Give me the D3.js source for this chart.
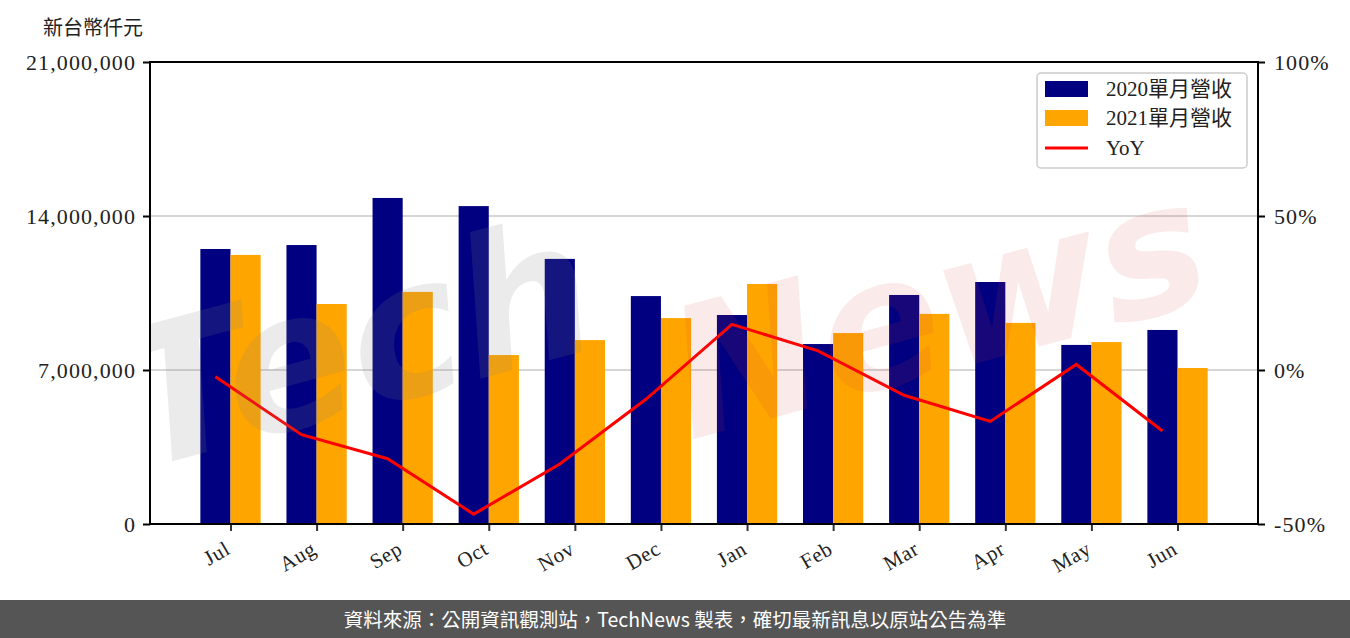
<!DOCTYPE html>
<html><head><meta charset="utf-8">
<script src="https://cdn.jsdelivr.net/npm/d3@7"></script>
<style>
html,body{margin:0;padding:0;background:#fff;}
svg{display:block;}
</style></head>
<body>
<svg id="chart" width="1350" height="638"></svg>
<script>
const months = ["Jul","Aug","Sep","Oct","Nov","Dec","Jan","Feb","Mar","Apr","May","Jun"];
const rev2020 = [12500000,12680000,14820000,14450000,12050000,10360000,9500000,8180000,10410000,11000000,8140000,8820000];
const rev2021 = [12230000,10000000,10550000,7680000,8360000,9360000,10910000,8680000,9550000,9140000,8270000,7090000];
const yoy = [-2.2,-21.0,-28.8,-46.8,-30.5,-9.5,14.8,6.2,-8.2,-16.7,1.8,-19.8];
const leftTicks = [0,7000000,14000000,21000000];
const rightTicks = [-50,0,50,100];
const seriesNames = ["2020單月營收","2021單月營收","YoY"];
const colors = {a:"#000080", b:"#FFA500", line:"#FF0000"};

const svg = d3.select("#chart");
const L=150, R=1258, T=62, B=524;
const bw = 0.35, m = 0.05*(11+2*bw);
const x = d3.scaleLinear().domain([-bw-m, 11+bw+m]).range([L,R]);
const y = d3.scaleLinear().domain([0,21000000]).range([B,T]);
const y2 = d3.scaleLinear().domain([-50,100]).range([B,T]);
const serif = "'Liberation Serif','DejaVu Serif',serif";
const cjk = "'Liberation Serif','Noto Sans CJK TC',serif";

svg.append("defs").append("clipPath").attr("id","plotclip")
  .append("rect").attr("x",L).attr("y",T).attr("width",R-L).attr("height",B-T);

// gridlines
svg.append("g").selectAll("line").data([7000000,14000000]).join("line")
  .attr("x1",L).attr("x2",R).attr("y1",d=>y(d)).attr("y2",d=>y(d))
  .attr("stroke","#d6d6d6").attr("stroke-width",2);

// bars
const idx = d3.range(months.length);
svg.append("g").selectAll("rect").data(idx).join("rect")
  .attr("x",i=>x(i-bw)).attr("width",i=>x(i)-x(i-bw))
  .attr("y",i=>y(rev2020[i])).attr("height",i=>y(0)-y(rev2020[i]))
  .attr("fill",colors.a);
svg.append("g").selectAll("rect").data(idx).join("rect")
  .attr("x",i=>x(i)).attr("width",i=>x(i+bw)-x(i))
  .attr("y",i=>y(rev2021[i])).attr("height",i=>y(0)-y(rev2021[i]))
  .attr("fill",colors.b);

// line
svg.append("path").datum(idx)
  .attr("d", d3.line().x(i=>x(i-bw/2)).y(i=>y2(yoy[i])))
  .attr("fill","none").attr("stroke",colors.line).attr("stroke-width",3);

// watermark
const wm = svg.append("g").attr("clip-path","url(#plotclip)")
  .attr("font-family","'DejaVu Sans',sans-serif").attr("font-style","italic").attr("font-weight","bold");
wm.append("text").attr("transform","translate(140,470) rotate(-15)")
  .attr("font-size",190).attr("fill","#808080").attr("fill-opacity",0.16).text("Tech");
wm.append("text").attr("transform","translate(690,440) rotate(-15)")
  .attr("font-size",180).attr("fill","#d04040").attr("fill-opacity",0.11).text("News");

// axes
const gl = svg.append("g").attr("transform",`translate(${L},0)`)
  .call(d3.axisLeft(y).tickValues(leftTicks).tickFormat(d3.format(",")).tickSize(7).tickPadding(7));
const gr = svg.append("g").attr("transform",`translate(${R},0)`)
  .call(d3.axisRight(y2).tickValues(rightTicks).tickFormat(d=>d+"%").tickSize(7).tickPadding(9));
const gb = svg.append("g").attr("transform",`translate(0,${B})`)
  .call(d3.axisBottom(x).tickValues(idx).tickFormat(i=>months[i]).tickSize(7).tickPadding(6));
[gl,gr].forEach(g=>{
  g.select(".domain").remove();
  g.selectAll(".tick line").attr("stroke","#000").attr("stroke-width",2);
  g.selectAll(".tick text").attr("font-family",serif).attr("font-size",22).attr("fill","#222").attr("letter-spacing","1.1px");
});
gb.select(".domain").remove();
gb.selectAll(".tick line").attr("stroke","#333").attr("stroke-width",2);
gb.selectAll(".tick text").attr("font-family",serif).attr("font-size",21).attr("fill","#222")
  .attr("text-anchor","end").attr("dy","0.2em").attr("letter-spacing","0.6px")
  .attr("transform","translate(-8,14) rotate(-30)");

// frame
svg.append("rect").attr("x",L).attr("y",T).attr("width",R-L).attr("height",B-T)
  .attr("fill","none").attr("stroke","#000").attr("stroke-width",2);

// unit label
svg.append("text").attr("x",43).attr("y",35).attr("font-family",cjk).attr("font-size",20).attr("fill","#222").text("新台幣仟元");

// legend
const lg = svg.append("g");
lg.append("rect").attr("x",1037).attr("y",73).attr("width",210).attr("height",95).attr("rx",4)
  .attr("fill","#fff").attr("fill-opacity",0.8).attr("stroke","#cccccc").attr("stroke-width",1.5);
const rows=[89,118,148];
lg.append("rect").attr("x",1045).attr("y",rows[0]-8).attr("width",43).attr("height",16).attr("fill",colors.a);
lg.append("rect").attr("x",1045).attr("y",rows[1]-8).attr("width",43).attr("height",16).attr("fill",colors.b);
lg.append("line").attr("x1",1045).attr("x2",1088).attr("y1",rows[2]).attr("y2",rows[2]).attr("stroke",colors.line).attr("stroke-width",3);
lg.selectAll("text.l").data(seriesNames).join("text").attr("class","l")
  .attr("x",1106).attr("y",(d,i)=>rows[i]).attr("dy","0.35em")
  .attr("font-family",cjk).attr("font-size",21).attr("fill","#222").text(d=>d);

// footer
svg.append("rect").attr("x",0).attr("y",600).attr("width",1350).attr("height",38).attr("fill","#555555");
svg.append("text").attr("x",675).attr("y",620).attr("dy","0.35em").attr("text-anchor","middle")
  .attr("font-family","'Noto Sans CJK TC','Noto Sans',sans-serif").attr("font-size",19.5).attr("fill","#fff")
  .text("資料來源：公開資訊觀測站，TechNews 製表，確切最新訊息以原站公告為準");
</script>
</body></html>
